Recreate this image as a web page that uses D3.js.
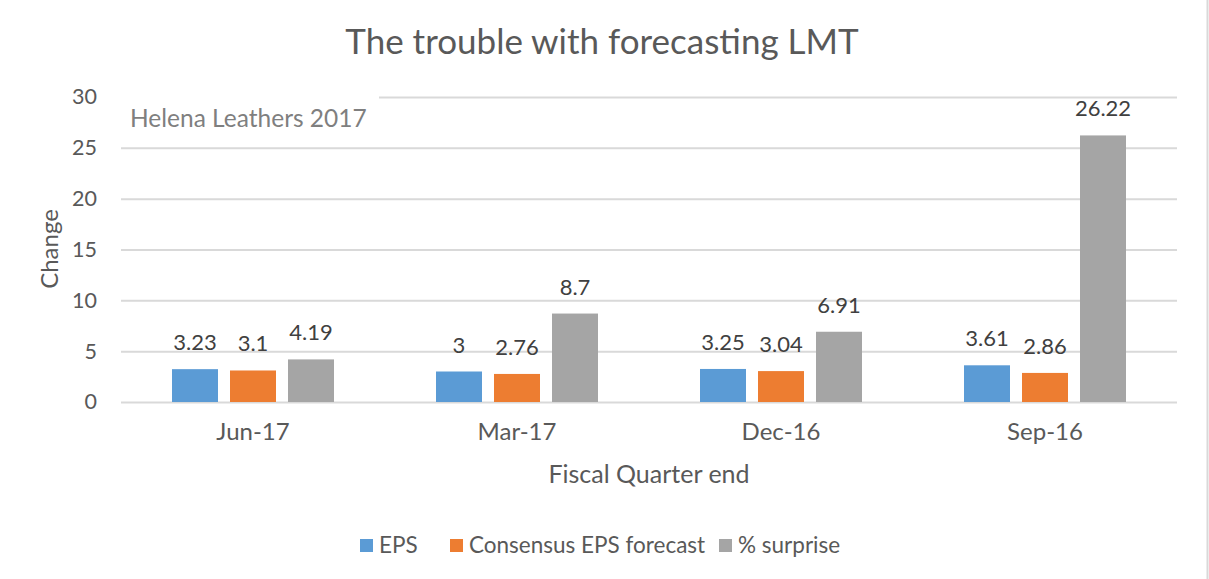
<!DOCTYPE html>
<html><head><meta charset="utf-8">
<script src="https://cdn.jsdelivr.net/npm/d3@7"></script>
<style>body{margin:0;background:#fff}svg{display:block}text{font-family:Lato,"Open Sans",sans-serif}</style>
</head><body>
<svg id="c" width="1209" height="579"></svg>
<script>
const categories = ["Jun-17", "Mar-17", "Dec-16", "Sep-16"];
const seriesNames = ["EPS", "Consensus EPS forecast", "% surprise"];
const eps = [3.23, 3, 3.25, 3.61];
const consensus = [3.1, 2.76, 3.04, 2.86];
const surprise = [4.19, 8.7, 6.91, 26.22];
const yTicks = [0, 5, 10, 15, 20, 25, 30];
const colors = ["#5B9BD5", "#ED7D31", "#A5A5A5"];
const seriesValues = [eps, consensus, surprise];

(function(){
const svg = d3.select("#c");
const pL = 121, pR = 1177, pT = 97, pB = 402;
const x0 = d3.scaleBand().domain(categories).range([pL, pR]).padding(0);
const groupW = 162;
const x1 = d3.scaleBand().domain(seriesNames).range([0, groupW]).paddingInner(12/58).paddingOuter(0);
const y = d3.scaleLinear().domain([0, 30]).range([pB, pT]);
const txt = "#595959";

// right border line
svg.append("line").attr("x1",1207.5).attr("x2",1207.5).attr("y1",0).attr("y2",579)
  .attr("stroke","#d9d9d9").attr("stroke-width",2);

// gridlines
const yAxis = d3.axisLeft(y).tickValues(yTicks).tickSize(-(pR-pL)).tickPadding(24);
const ga = svg.append("g").attr("transform",`translate(${pL},0)`).call(yAxis);
ga.select(".domain").remove();
ga.selectAll(".tick line").attr("stroke","#d9d9d9").attr("stroke-width",2);
ga.selectAll(".tick text").attr("fill",txt).style("font-size","21.5px").attr("font-family","Lato");

// watermark box
svg.append("rect").attr("x",pL).attr("y",88).attr("width",258).attr("height",50).attr("fill","#fff");
svg.append("text").attr("x",130).attr("y",127).attr("fill","#7f7f7f").style("font-size","24.5px").text("Helena Leathers 2017");

// bars
const data = [];
categories.forEach((c,i)=>seriesNames.forEach((s,j)=>data.push({c,s,j,v:seriesValues[j][i]})));
const g = svg.append("g");
g.selectAll("rect.bar").data(data).enter().append("rect").attr("class","bar")
  .attr("x",d=>x0(d.c)+x0.bandwidth()/2-groupW/2+x1(d.s))
  .attr("width",x1.bandwidth())
  .attr("y",d=>y(d.v)).attr("height",d=>y(0)-y(d.v))
  .attr("fill",d=>colors[d.j]);
g.selectAll("text.lbl").data(data).enter().append("text").attr("class","lbl")
  .attr("x",d=>x0(d.c)+x0.bandwidth()/2-groupW/2+x1(d.s)+x1.bandwidth()/2)
  .attr("y",d=>y(d.v)-19).attr("text-anchor","middle").attr("fill","#404040")
  .style("font-size","22px").text(d=>d.v);

// x axis labels
const xa = svg.append("g").attr("transform",`translate(0,${pB})`).call(d3.axisBottom(x0).tickSize(0).tickPadding(21));
xa.select(".domain").remove();
xa.selectAll(".tick text").attr("fill",txt).style("font-size","24px").attr("font-family","Lato");

// titles
svg.append("text").attr("x",602).attr("y",54).attr("text-anchor","middle").attr("fill",txt).style("font-size","35px").text("The trouble with forecasting LMT");
svg.append("text").attr("transform","translate(58,249) rotate(-90)").attr("text-anchor","middle").attr("fill",txt).style("font-size","24px").text("Change");
svg.append("text").attr("x",649).attr("y",483).attr("text-anchor","middle").attr("fill",txt).style("font-size","25px").text("Fiscal Quarter end");

// legend
const legX = [360, 450, 719];
const lg = svg.append("g");
seriesNames.forEach((s,j)=>{
  lg.append("rect").attr("x",legX[j]).attr("y",539).attr("width",13).attr("height",13).attr("fill",colors[j]);
  lg.append("text").attr("x",legX[j]+19).attr("y",553).attr("fill",txt).style("font-size","22.5px").text(s);
});
})();
</script>
</body></html>
